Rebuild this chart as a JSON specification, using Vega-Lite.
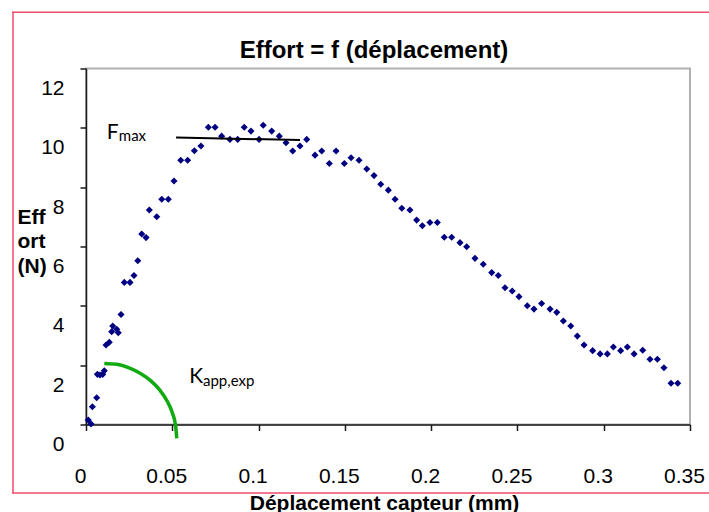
{
  "$schema": "https://vega.github.io/schema/vega-lite/v6.json",
  "autosize": "none",
  "width": 604,
  "height": 356,
  "padding": {"left": 86, "top": 68.5, "right": 19, "bottom": 87.5},
  "background": "white",
  "title": {
    "text": "Effort = f (déplacement)",
    "font": "Liberation Sans",
    "fontSize": 24,
    "fontWeight": "bold",
    "color": "black",
    "anchor": "middle",
    "frame": "group",
    "dx": -14,
    "baseline": "alphabetic",
    "offset": -71
  },
  "config": {
    "view": {"stroke": "#b0b0b0", "strokeWidth": 2},
    "axis": {
      "grid": false,
      "domainColor": "#1a1a1a",
      "domainWidth": 1.5,
      "tickColor": "#1a1a1a",
      "tickWidth": 1.5,
      "tickSize": 6,
      "labelFont": "Liberation Sans",
      "labelFontSize": 21,
      "labelColor": "black",
      "labelFlush": false,
      "labelOverlap": false,
      "titleFont": "Liberation Sans",
      "titleFontSize": 21,
      "titleFontWeight": "bold",
      "titleColor": "black"
    }
  },
  "datasets": {
    "points": [
      {"x": 0.0013, "y": 0.15}, {"x": 0.0029, "y": 0.02}, {"x": 0.0037, "y": 0.60}, {"x": 0.0062, "y": 0.90},
      {"x": 0.0066, "y": 1.69}, {"x": 0.0081, "y": 1.67}, {"x": 0.0097, "y": 1.69}, {"x": 0.0106, "y": 1.81},
      {"x": 0.0116, "y": 2.68}, {"x": 0.0135, "y": 2.77}, {"x": 0.0149, "y": 3.13}, {"x": 0.0155, "y": 3.32},
      {"x": 0.0178, "y": 3.21}, {"x": 0.0187, "y": 3.09}, {"x": 0.0203, "y": 3.71}, {"x": 0.0222, "y": 4.79},
      {"x": 0.0255, "y": 4.79}, {"x": 0.0278, "y": 5.02}, {"x": 0.0300, "y": 5.52}, {"x": 0.0323, "y": 6.42},
      {"x": 0.0348, "y": 6.30}, {"x": 0.0367, "y": 7.23}, {"x": 0.0410, "y": 7.00}, {"x": 0.0439, "y": 7.59},
      {"x": 0.0477, "y": 7.59}, {"x": 0.0510, "y": 8.21}, {"x": 0.0549, "y": 8.91}, {"x": 0.0589, "y": 8.91},
      {"x": 0.0628, "y": 9.23}, {"x": 0.0666, "y": 9.39}, {"x": 0.0709, "y": 10.02}, {"x": 0.0748, "y": 10.02},
      {"x": 0.0786, "y": 9.72}, {"x": 0.0834, "y": 9.61}, {"x": 0.0879, "y": 9.61}, {"x": 0.0917, "y": 10.02},
      {"x": 0.0956, "y": 9.89}, {"x": 0.1003, "y": 9.61}, {"x": 0.1027, "y": 10.09}, {"x": 0.1076, "y": 9.89},
      {"x": 0.1120, "y": 9.72}, {"x": 0.1159, "y": 9.50}, {"x": 0.1198, "y": 9.22}, {"x": 0.1240, "y": 9.39},
      {"x": 0.1279, "y": 9.61}, {"x": 0.1327, "y": 9.08}, {"x": 0.1366, "y": 9.22}, {"x": 0.1410, "y": 8.80},
      {"x": 0.1449, "y": 9.22}, {"x": 0.1497, "y": 8.80}, {"x": 0.1536, "y": 8.99}, {"x": 0.1582, "y": 8.91},
      {"x": 0.1627, "y": 8.61}, {"x": 0.1669, "y": 8.39}, {"x": 0.1708, "y": 8.10}, {"x": 0.1752, "y": 7.90},
      {"x": 0.1791, "y": 7.59}, {"x": 0.1830, "y": 7.29}, {"x": 0.1877, "y": 7.23}, {"x": 0.1916, "y": 6.89},
      {"x": 0.1949, "y": 6.70}, {"x": 0.1993, "y": 6.81}, {"x": 0.2036, "y": 6.81}, {"x": 0.2076, "y": 6.31},
      {"x": 0.2119, "y": 6.31}, {"x": 0.2167, "y": 6.13}, {"x": 0.2206, "y": 5.99}, {"x": 0.2254, "y": 5.60},
      {"x": 0.2302, "y": 5.40}, {"x": 0.2351, "y": 5.12}, {"x": 0.2389, "y": 5.02}, {"x": 0.2428, "y": 4.61},
      {"x": 0.2470, "y": 4.50}, {"x": 0.2509, "y": 4.31}, {"x": 0.2557, "y": 4.00}, {"x": 0.2596, "y": 3.89},
      {"x": 0.2640, "y": 4.08}, {"x": 0.2689, "y": 3.89}, {"x": 0.2728, "y": 3.78}, {"x": 0.2766, "y": 3.49},
      {"x": 0.2809, "y": 3.32}, {"x": 0.2847, "y": 2.98}, {"x": 0.2886, "y": 2.68}, {"x": 0.2936, "y": 2.49},
      {"x": 0.2979, "y": 2.38}, {"x": 0.3021, "y": 2.38}, {"x": 0.3056, "y": 2.61}, {"x": 0.3098, "y": 2.49},
      {"x": 0.3137, "y": 2.61}, {"x": 0.3176, "y": 2.38}, {"x": 0.3226, "y": 2.50}, {"x": 0.3268, "y": 2.20},
      {"x": 0.3311, "y": 2.20}, {"x": 0.3349, "y": 1.91}, {"x": 0.3390, "y": 1.39}, {"x": 0.3429, "y": 1.39}
    ],
    "fmax": [{"x": 0.0522, "y": 9.67}, {"x": 0.1240, "y": 9.59}],
    "arc": [
      {"x": 0.0106, "y": 2.06}, {"x": 0.0179, "y": 2.03}, {"x": 0.0250, "y": 1.91}, {"x": 0.0316, "y": 1.72},
      {"x": 0.0376, "y": 1.47}, {"x": 0.0428, "y": 1.16}, {"x": 0.0469, "y": 0.80}, {"x": 0.0500, "y": 0.40},
      {"x": 0.0519, "y": -0.03}, {"x": 0.0526, "y": -0.47}
    ],
    "borderH": [
      {"x": -0.0427, "x2": 0.5, "y": 13.9},
      {"x": -0.0427, "x2": 0.5, "y": -2.31}
    ],
    "borderV": [{"x": -0.0423, "y": 13.92, "y2": -2.33}],
    "mainLabels": [
      {"x": 0.0120, "y": 9.61, "text": "F"},
      {"x": 0.0599, "y": 1.41, "text": "K"}
    ],
    "subLabels": [
      {"x": 0.0190, "y": 9.54, "text": "max"},
      {"x": 0.0678, "y": 1.31, "text": "app,exp"}
    ]
  },
  "layer": [
    {
      "data": {"name": "points"},
      "mark": {"type": "point", "shape": "diamond", "filled": true, "size": 50, "color": "#000080", "opacity": 1},
      "encoding": {
        "x": {
          "field": "x", "type": "quantitative",
          "scale": {"domain": [0, 0.35], "nice": false, "zero": false},
          "axis": {
            "title": "Déplacement capteur (mm)",
            "values": [0, 0.05, 0.1, 0.15, 0.2, 0.25, 0.3, 0.35],
            "format": "~g",
            "labelOffset": -6,
            "labelPadding": 35,
            "titleX": 298,
            "titleY": 84.5,
            "titleAlign": "center",
            "titleBaseline": "alphabetic"
          }
        },
        "y": {
          "field": "y", "type": "quantitative",
          "scale": {"domain": [0, 12], "nice": false, "zero": false},
          "axis": {
            "title": ["Eff", "ort", "(N)"],
            "values": [0, 2, 4, 6, 8, 10, 12],
            "labelOffset": 20,
            "labelPadding": 16,
            "titleAngle": 0,
            "titleAlign": "left",
            "titleBaseline": "alphabetic",
            "titleX": -69,
            "titleY": 154.5,
            "titleLineHeight": 24.5
          }
        }
      }
    },
    {
      "data": {"name": "fmax"},
      "mark": {"type": "line", "color": "black", "strokeWidth": 2},
      "encoding": {
        "x": {"field": "x", "type": "quantitative"},
        "y": {"field": "y", "type": "quantitative"}
      }
    },
    {
      "data": {"name": "arc"},
      "mark": {"type": "line", "color": "#11aa11", "strokeWidth": 3.5, "interpolate": "monotone"},
      "encoding": {
        "x": {"field": "x", "type": "quantitative"},
        "y": {"field": "y", "type": "quantitative"}
      }
    },
    {
      "data": {"name": "borderH"},
      "mark": {"type": "rule", "color": "#ee4d6a", "strokeWidth": 1.5},
      "encoding": {
        "x": {"field": "x", "type": "quantitative"},
        "x2": {"field": "x2"},
        "y": {"field": "y", "type": "quantitative"}
      }
    },
    {
      "data": {"name": "borderV"},
      "mark": {"type": "rule", "color": "#ee4d6a", "strokeWidth": 1.5},
      "encoding": {
        "x": {"field": "x", "type": "quantitative"},
        "y": {"field": "y", "type": "quantitative"},
        "y2": {"field": "y2"}
      }
    },
    {
      "data": {"name": "mainLabels"},
      "mark": {"type": "text", "font": "Lato", "fontSize": 21, "align": "left", "baseline": "alphabetic", "color": "black"},
      "encoding": {
        "x": {"field": "x", "type": "quantitative"},
        "y": {"field": "y", "type": "quantitative"},
        "text": {"field": "text"}
      }
    },
    {
      "data": {"name": "subLabels"},
      "mark": {"type": "text", "font": "Lato", "fontSize": 15, "align": "left", "baseline": "alphabetic", "color": "black"},
      "encoding": {
        "x": {"field": "x", "type": "quantitative"},
        "y": {"field": "y", "type": "quantitative"},
        "text": {"field": "text"}
      }
    }
  ]
}
